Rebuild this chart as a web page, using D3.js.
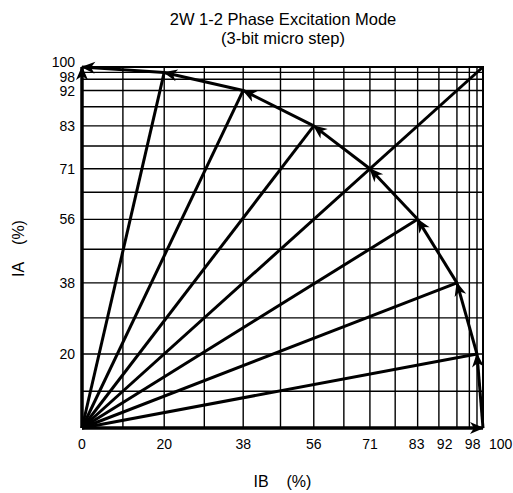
<!DOCTYPE html>
<html>
<head>
<meta charset="utf-8">
<script src="https://cdn.jsdelivr.net/npm/d3@7"></script>
<style>
  html, body { margin: 0; padding: 0; background: #fff; }
  svg text { font-family: "Liberation Sans", Arial, sans-serif; fill: #000; white-space: pre; }
</style>
</head>
<body>
<svg id="chart" width="513" height="493"></svg>
<script>
// ---- data ----
const titleLines = ["2W 1-2 Phase Excitation Mode", "(3-bit micro step)"];
const xTitle = "IB    (%)";
const yTitle = "IA    (%)";
// labelled current levels (%)
const tickValues = [0, 20, 38, 56, 71, 83, 92, 98, 100];
const tickLabels = ["0", "20", "38", "56", "71", "83", "92", "98", "100"];
// where each labelled level sits along the drawn axis (% of axis length)
const tickPos = [0, 20.5, 40.2, 57.8, 71.8, 83.7, 93.5, 98.5, 100];
// unlabelled intermediate grid lines (% of axis length)
const minorGrid = [10.2, 30.5, 49.5, 65.3, 78.1, 89, 96.6];
// micro-step current vectors, step 0..8
const stepIB = [100, 98, 92, 83, 71, 56, 38, 20, 0];
const stepIA = [0, 20, 38, 56, 71, 83, 92, 98, 100];

// ---- layout ----
const svg = d3.select("#chart");
const x = d3.scaleLinear().domain([0, 100]).range([82, 483]);
const y = d3.scaleLinear().domain([0, 100]).range([428, 67]);
const cal = d3.scaleLinear().domain(tickValues).range(tickPos);
const px = v => x(cal(v));
const py = v => y(cal(v));

// arrow marker
const defs = svg.append("defs");
defs.append("marker")
  .attr("id", "arr").attr("viewBox", "-14 -7 16 14")
  .attr("refX", 0).attr("refY", 0)
  .attr("markerWidth", 16).attr("markerHeight", 14)
  .attr("markerUnits", "userSpaceOnUse")
  .attr("orient", "auto")
  .append("path").attr("d", "M1,0 L-13,-6 L-9,0 L-13,6 Z").attr("fill", "#000");

// grid
const gridVals = tickPos.slice(1).concat(minorGrid);
const g = svg.append("g");
g.selectAll("line.vx").data(gridVals).join("line")
  .attr("x1", d => x(d)).attr("x2", d => x(d))
  .attr("y1", y(0)).attr("y2", y(100))
  .attr("stroke", "#000").attr("stroke-width", 1.4);
g.selectAll("line.hy").data(gridVals).join("line")
  .attr("y1", d => y(d)).attr("y2", d => y(d))
  .attr("x1", x(0)).attr("x2", x(100))
  .attr("stroke", "#000").attr("stroke-width", 1.4);
// frame top/right
svg.append("path")
  .attr("d", `M${x(0)},${y(100)}H${x(100)}V${y(0)}`)
  .attr("fill", "none").attr("stroke", "#000").attr("stroke-width", 2);

// rays from origin
const steps = stepIB.map((b, i) => ({ b, a: stepIA[i], i }));
const last = steps.length - 1;
svg.selectAll("line.ray").data(steps).join("line")
  .attr("x1", px(0)).attr("y1", py(0))
  .attr("x2", d => (d.b === d.a ? x(100) : px(d.b)))
  .attr("y2", d => (d.b === d.a ? y(100) : py(d.a)))
  .attr("stroke", "#000")
  .attr("stroke-width", d => (d.i === 0 || d.i === last ? 3.5 : 3))
  .attr("marker-end", d => (d.i === 0 || d.i === last ? "url(#arr)" : null));

// arc segments between successive steps
const segs = d3.pairs(steps);
svg.selectAll("line.seg").data(segs).join("line")
  .attr("x1", d => px(d[0].b)).attr("y1", d => py(d[0].a))
  .attr("x2", d => px(d[1].b)).attr("y2", d => py(d[1].a))
  .attr("stroke", "#000").attr("stroke-width", 3)
  .attr("marker-end", "url(#arr)");

// label de-overlap
function spread(pos, gap) {
  const p = pos.slice();
  for (let it = 0; it < 200; it++) {
    for (let i = 0; i < p.length - 1; i++) {
      const d = p[i + 1] - p[i];
      if (d < gap) { const m = (gap - d) / 2; p[i] -= m; p[i + 1] += m; }
    }
  }
  return p;
}
const xl = spread(tickValues.map(px), 28);
svg.selectAll("text.xt").data(tickLabels).join("text")
  .attr("x", (d, i) => xl[i]).attr("y", 449)
  .attr("text-anchor", "middle").attr("font-size", 14).text(d => d);
const yl = spread(tickValues.map(py).reverse(), 14.5).reverse();
svg.selectAll("text.yt").data(tickLabels.slice(1)).join("text")
  .attr("x", 75).attr("y", (d, i) => yl[i + 1] + 5)
  .attr("text-anchor", "end").attr("font-size", 14).text(d => d);

// titles
svg.selectAll("text.title").data(titleLines).join("text")
  .attr("x", 283).attr("y", (d, i) => 24.5 + i * 19)
  .attr("text-anchor", "middle").attr("font-size", 16.5).text(d => d);
svg.append("text").attr("x", 282.5).attr("y", 487)
  .attr("text-anchor", "middle").attr("font-size", 16).text(xTitle);
svg.append("text").attr("transform", "translate(24,248.5) rotate(-90)")
  .attr("text-anchor", "middle").attr("font-size", 16).text(yTitle);
</script>
</body>
</html>
